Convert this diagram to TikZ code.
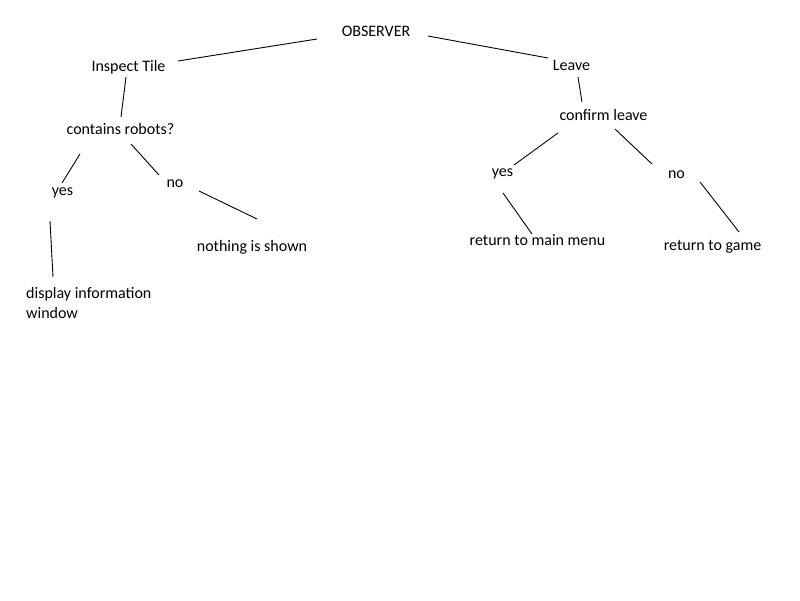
\documentclass[tikz,border=0pt]{standalone}
\usepackage{fontspec}
\setmainfont{Carlito}
\begin{document}
\begin{tikzpicture}[x=1pt,y=-1pt,
  lbl/.style={anchor=base,inner sep=0pt,font=\fontsize{16}{20}\selectfont},
  conn/.style={line width=0.9pt,black}]
\useasboundingbox[fill=white] (0,0) rectangle (800,600);
% texts
\node[lbl] (obs) at (376,36) {OBSERVER};
\node[lbl] (insp) at (128.5,71) {Inspect Tile};
\node[lbl] (cont) at (120.5,134) {contains robots?};
\node[lbl] (yesL) at (62.5,195) {yes};
\node[lbl] (noL) at (175,187) {no};
\node[lbl] (noth) at (252,251) {nothing is shown};
\node[lbl,anchor=base west] (disp) at (26,298) {display information};
\node[lbl,anchor=base west] (win) at (26,318) {window};
\node[lbl] (leave) at (571.5,70) {Leave};
\node[lbl] (conf) at (603.5,120) {confirm leave};
\node[lbl] (yesR) at (502.5,176) {yes};
\node[lbl] (noR) at (676.5,178) {no};
\node[lbl] (main) at (537.5,245) {return to main menu};
\node[lbl] (game) at (712.5,250) {return to game};
% connector ends
\coordinate (a1) at (317,39);  \coordinate (a2) at (178,61);
\coordinate (b1) at (428,36);  \coordinate (b2) at (548,58);
\coordinate (c1) at (126,77);  \coordinate (c2) at (121,117);
\coordinate (d1) at (80,154);  \coordinate (d2) at (62,183);
\coordinate (e1) at (131,144); \coordinate (e2) at (159,175);
\coordinate (f1) at (50,221);  \coordinate (f2) at (53,277);
\coordinate (g1) at (199,191); \coordinate (g2) at (257,219);
\coordinate (h1) at (578,77);  \coordinate (h2) at (582,102);
\coordinate (i1) at (558,133); \coordinate (i2) at (514,165);
\coordinate (j1) at (615,129); \coordinate (j2) at (652,164);
\coordinate (k1) at (503,193); \coordinate (k2) at (532,234);
\coordinate (l1) at (700,182); \coordinate (l2) at (739,232);
\draw[conn] (a1) -- (a2);
\draw[conn] (b1) -- (b2);
\draw[conn] (c1) -- (c2);
\draw[conn] (d1) -- (d2);
\draw[conn] (e1) -- (e2);
\draw[conn] (f1) -- (f2);
\draw[conn] (g1) -- (g2);
\draw[conn] (h1) -- (h2);
\draw[conn] (i1) -- (i2);
\draw[conn] (j1) -- (j2);
\draw[conn] (k1) -- (k2);
\draw[conn] (l1) -- (l2);
\end{tikzpicture}
\end{document}
